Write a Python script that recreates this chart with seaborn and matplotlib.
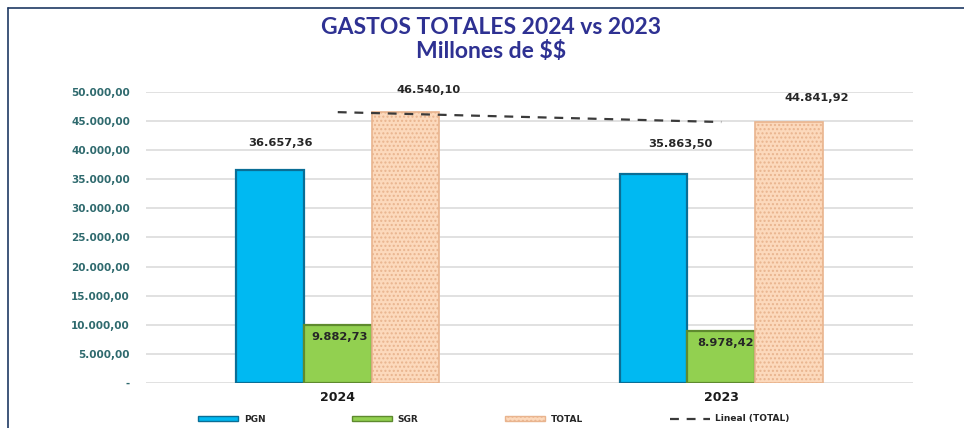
import matplotlib
matplotlib.use("Agg")
import matplotlib.pyplot as plt
import seaborn as sns
import pandas as pd
from matplotlib.patches import Patch
from matplotlib.lines import Line2D

years = ["2024", "2023"]
series = ["PGN", "SGR", "TOTAL"]
pgn = [36657.36, 35863.50]
sgr = [9882.73, 8978.42]
total = [46540.10, 44841.92]
yticks = [0, 5000, 10000, 15000, 20000, 25000, 30000, 35000, 40000, 45000, 50000]

def fmt(v):
    s = f"{v:,.2f}"
    return s.replace(",", "X").replace(".", ",").replace("X", ".")

rows = []
for i, y in enumerate(years):
    rows.append((y, "PGN", pgn[i]))
    rows.append((y, "SGR", sgr[i]))
    rows.append((y, "TOTAL", total[i]))
df = pd.DataFrame(rows, columns=["year", "serie", "value"])

sns.set_theme(style="white")
plt.rcParams["font.family"] = ["DejaVu Sans"]
plt.rcParams["text.parse_math"] = False

colors = {"PGN": "#00B9F2", "SGR": "#92D050", "TOTAL": "#FCD9BC"}
edges = {"PGN": "#0A6E96", "SGR": "#5E8A2E", "TOTAL": "#B89478"}

fig = plt.figure(figsize=(9.64, 4.28), dpi=100)
ax = fig.add_axes([146 / 964, 45 / 428, (913 - 146) / 964, (383 - 92) / 428])

sns.barplot(data=df, x="year", y="value", hue="serie", order=years,
            hue_order=series, palette=colors, width=0.53, dodge=True,
            saturation=1, ax=ax, legend=False, errorbar=None)

for cont, s in zip(ax.containers, series):
    for bar in cont:
        bar.set_edgecolor(edges[s])
        bar.set_linewidth(1.6)
        if s == "TOTAL":
            bar.set_hatch("....")
            bar.set_edgecolor("#E9B48E")
            bar.set_linewidth(1.2)

# trend line
ax.plot([0, 1], total, linestyle=(0, (4, 3.5)), color="#3A3A3A", linewidth=1.6, zorder=5)

# value labels (label placement offsets in pixels, per year)
label_dx = {"PGN": [10, 27], "SGR": [2, 4], "TOTAL": [23, 28]}
label_dy = {"PGN": [27, 30], "SGR": [-12, -12], "TOTAL": [22, 24]}
for cont, s in zip(ax.containers, series):
    for j, bar in enumerate(cont):
        h = bar.get_height()
        cx = bar.get_x() + bar.get_width() / 2
        ax.annotate(fmt(h), (cx, h), xytext=(label_dx[s][j], label_dy[s][j]),
                    textcoords="offset pixels",
                    ha="center", va="center", fontsize=8.2, fontweight="bold",
                    family="DejaVu Sans", color="#262626", zorder=6)

ax.set_ylim(0, 50000)
ax.set_xlim(-0.5, 1.5)
ax.set_yticks(yticks)
ax.set_yticklabels(["-" if v == 0 else fmt(v) for v in yticks])
ax.yaxis.grid(True, color="#DEDEDE", linewidth=1.3)
ax.set_axisbelow(True)
for sp in ax.spines.values():
    sp.set_visible(False)
ax.tick_params(axis="y", length=0, pad=11.5, labelsize=7.5, labelcolor="#2F6A6E")
for t in ax.get_yticklabels():
    t.set_fontweight("bold")
    t.set_family("DejaVu Sans")
ax.tick_params(axis="x", length=0, pad=6, labelsize=9, labelcolor="#1A1A1A")
for t in ax.get_xticklabels():
    t.set_fontweight("bold")
    t.set_family("DejaVu Sans")
ax.set_xlabel("")
ax.set_ylabel("")

# title
fig.text(491 / 964, 1 - 28 / 428, "GASTOS TOTALES 2024 vs 2023", ha="center", va="center",
         fontsize=16.5, fontweight="bold", color="#2E3192", family="Lato")
fig.text(491 / 964, 1 - 51 / 428, "Millones de $$", ha="center", va="center",
         fontsize=16.5, fontweight="bold", color="#2E3192", family="Lato")

# legend
handles = [
    Patch(facecolor=colors["PGN"], edgecolor=edges["PGN"]),
    Patch(facecolor=colors["SGR"], edgecolor=edges["SGR"]),
    Patch(facecolor=colors["TOTAL"], edgecolor="#E9B48E", hatch="...."),
    Line2D([0], [0], color="#3A3A3A", linestyle=(0, (4, 3.5)), linewidth=1.6),
]
labels = ["PGN", "SGR", "TOTAL", "Lineal (TOTAL)"]
leg = fig.legend(handles, labels, loc="center", bbox_to_anchor=(494 / 964, 1 - 419 / 428),
                 ncol=4, frameon=False, handlelength=4.4, handleheight=0.45,
                 columnspacing=9.6, handletextpad=0.66,
                 prop={"family": "DejaVu Sans", "weight": "bold", "size": 6.5})

# border lines (top and left)
fig.add_artist(Line2D([8 / 964, 1.0], [1 - 8 / 428, 1 - 8 / 428], color="#1F3A64",
                      linewidth=1.2, transform=fig.transFigure))
fig.add_artist(Line2D([8 / 964, 8 / 964], [0.0, 1 - 8 / 428], color="#1F3A64",
                      linewidth=1.2, transform=fig.transFigure))

fig.savefig("out.png", dpi=100)
